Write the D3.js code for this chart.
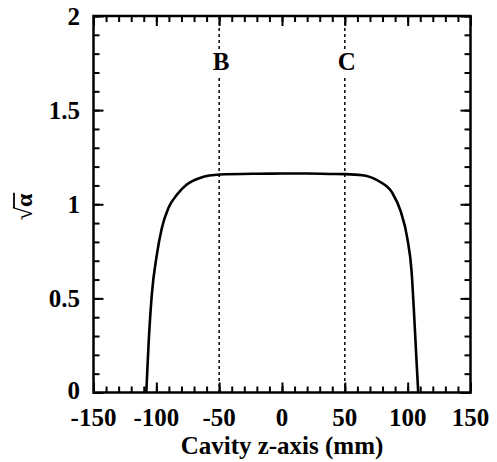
<!DOCTYPE html>
<html>
<head>
<meta charset="utf-8">
<script src="https://cdn.jsdelivr.net/npm/d3@7"></script>
<style>
  html, body { margin: 0; padding: 0; background: #fff; }
  svg { display: block; }
</style>
</head>
<body>
<svg id="chart" width="497" height="462"></svg>
<script>
// ---- data ----
const zPos   = [-108, -106.2, -103.6, -99.6, -95.6, -90.4, -83.7, -75.8, -65.3, -49.5, -20, 0, 20, 37.6, 50, 64, 77.2, 87.8, 94.4, 99.7, 103.1, 105, 106.8, 108.4];
const sqrtA  = [0, 0.254, 0.52, 0.732, 0.874, 0.98, 1.05, 1.105, 1.14, 1.158, 1.162, 1.163, 1.163, 1.161, 1.160, 1.154, 1.122, 1.06, 0.963, 0.82, 0.644, 0.43, 0.2, 0];
const xTicks = [-150, -100, -50, 0, 50, 100, 150];
const yTicks = [0, 0.5, 1, 1.5, 2];
const yTickLabels = ["0", "0.5", "1", "1.5", "2"];
const markerPos = [-50, 50];
const markerLabels = ["B", "C"];

// ---- layout ----
const FONT = "Liberation Serif";
const svg = d3.select("#chart");
const L = 93.5, R = 470.5, T = 16, B = 392.5;
const x = d3.scaleLinear().domain([-150, 150]).range([L, R]);
const y = d3.scaleLinear().domain([0, 2]).range([B, T]);

const xMinor = d3.range(-150, 151, 10);
const yMinor = d3.range(0, 2.0001, 0.1).map(v => +v.toFixed(1));

const majLen = 10, minLen = 6;
function styleAxis(g) {
  g.select(".domain").remove();
  g.selectAll(".tick line").attr("stroke", "#000").attr("stroke-width", 2);
  g.selectAll(".tick text").remove();
}
function txt(sel, size) {
  return sel.attr("font-family", FONT).attr("font-weight", "bold")
    .attr("font-size", size).attr("fill", "#000");
}
// bottom
svg.append("g").attr("transform", `translate(0,${B})`)
  .call(d3.axisBottom(x).tickValues(xMinor).tickSize(-minLen)).call(styleAxis);
svg.append("g").attr("transform", `translate(0,${B})`)
  .call(d3.axisBottom(x).tickValues(xTicks).tickSize(-majLen)).call(styleAxis);
// top
svg.append("g").attr("transform", `translate(0,${T})`)
  .call(d3.axisTop(x).tickValues(xMinor).tickSize(-minLen)).call(styleAxis);
svg.append("g").attr("transform", `translate(0,${T})`)
  .call(d3.axisTop(x).tickValues(xTicks).tickSize(-majLen)).call(styleAxis);
// left
svg.append("g").attr("transform", `translate(${L},0)`)
  .call(d3.axisLeft(y).tickValues(yMinor).tickSize(-minLen)).call(styleAxis);
svg.append("g").attr("transform", `translate(${L},0)`)
  .call(d3.axisLeft(y).tickValues(yTicks).tickSize(-majLen)).call(styleAxis);
// right
svg.append("g").attr("transform", `translate(${R},0)`)
  .call(d3.axisRight(y).tickValues(yMinor).tickSize(-minLen)).call(styleAxis);
svg.append("g").attr("transform", `translate(${R},0)`)
  .call(d3.axisRight(y).tickValues(yTicks).tickSize(-majLen)).call(styleAxis);

// frame
svg.append("rect").attr("x", L).attr("y", T).attr("width", R - L).attr("height", B - T)
  .attr("fill", "none").attr("stroke", "#000").attr("stroke-width", 2.5);

// tick labels
svg.append("g").selectAll("text").data(xTicks).join("text")
  .attr("x", d => x(d)).attr("y", 426)
  .attr("text-anchor", "middle").call(txt, 25)
  .text(d => d);
svg.append("g").selectAll("text").data(yTicks).join("text")
  .attr("x", 80).attr("y", (d, i) => y(d) + (i === 0 ? 6.5 : 8.5))
  .attr("text-anchor", "end").call(txt, 25)
  .text((d, i) => yTickLabels[i]);

// x title
svg.append("text").attr("x", (L + R) / 2).attr("y", 454)
  .attr("text-anchor", "middle").call(txt, 25)
  .text("Cavity z-axis (mm)");

// y title: sqrt(alpha), rotated
const yt = svg.append("g").attr("transform", "translate(32,207) rotate(-90)");
const ytxt = yt.append("text").attr("x", 0).attr("y", 0)
  .attr("text-anchor", "middle").call(txt, 24)
  .text("√α");
try {
  const n = ytxt.node();
  const e0 = n.getExtentOfChar(0), e1 = n.getExtentOfChar(1);
  yt.append("line")
    .attr("x1", e0.x + e0.width - 1).attr("x2", e1.x + e1.width + 1)
    .attr("y1", e0.y + 3).attr("y2", e0.y + 3)
    .attr("stroke", "#000").attr("stroke-width", 1.8);
} catch (err) {}

// marker lines B, C
markerPos.forEach((m, i) => {
  [[2, 1.82], [1.67, 0]].forEach(seg => {
    svg.append("line")
      .attr("x1", x(m)).attr("x2", x(m))
      .attr("y1", y(seg[0])).attr("y2", y(seg[1]))
      .attr("stroke", "#000").attr("stroke-width", 1.5)
      .attr("stroke-dasharray", "3,3");
  });
  svg.append("text").attr("x", x(m) + 2).attr("y", 69.5)
    .attr("text-anchor", "middle").call(txt, 25)
    .text(markerLabels[i]);
});

// curve
const line = d3.line().x(d => x(d[0])).y(d => y(d[1])).curve(d3.curveMonotoneX);
svg.append("path").datum(zPos.map((z, i) => [z, sqrtA[i]]))
  .attr("d", line).attr("fill", "none").attr("stroke", "#000").attr("stroke-width", 2.6);
</script>
</body>
</html>
